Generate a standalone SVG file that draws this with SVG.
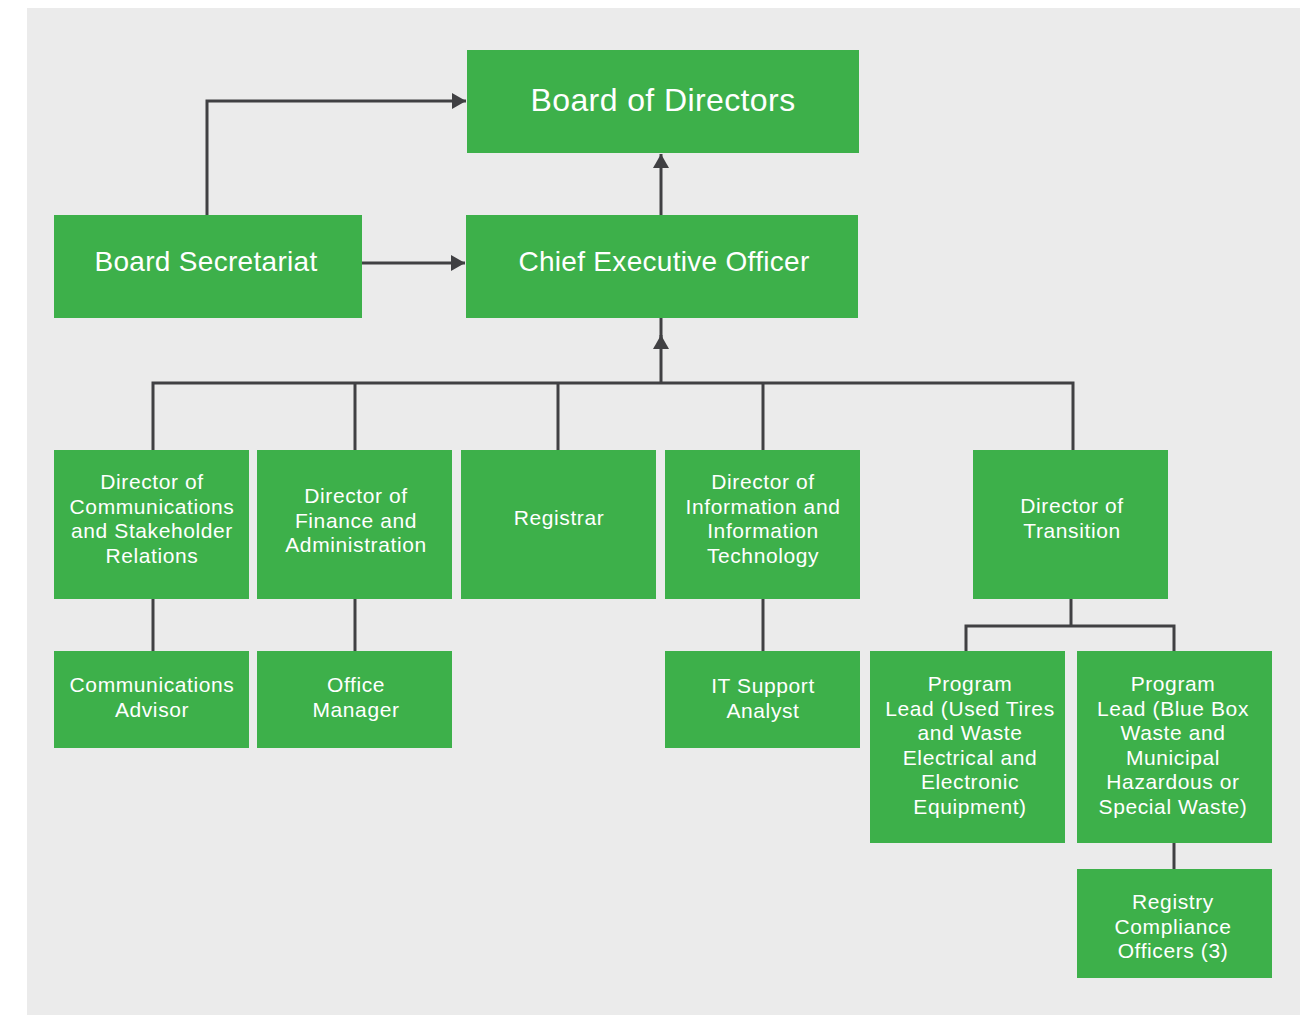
<svg xmlns="http://www.w3.org/2000/svg" width="1307" height="1015" viewBox="0 0 1307 1015">
<defs>
<style>
.bg{fill:#ebebeb}
.n{fill:#3db04a}
.c{stroke:#404043;stroke-width:3;fill:none}
.t{fill:#ffffff;font-family:"Liberation Sans",Arial,sans-serif;text-anchor:middle}
.s{font-size:21px;letter-spacing:0.6px}
.m{font-size:28px;letter-spacing:0.3px}
.l{font-size:32px;letter-spacing:0.4px}
</style>
<marker id="ah" viewBox="0 0 14 16" refX="14" refY="8" markerWidth="14" markerHeight="16" markerUnits="userSpaceOnUse" orient="auto">
<path d="M0,0 L14,8 L0,16 Z" fill="#404043"/>
</marker>
</defs>
<rect class="bg" x="27" y="8" width="1273" height="1007"/>
<g id="connectors">
<path class="c" d="M207,215 V101 H466" marker-end="url(#ah)"/>
<path class="c" d="M362,263 H465" marker-end="url(#ah)"/>
<path class="c" d="M661,215 V154" marker-end="url(#ah)"/>
<path class="c" d="M661,383 V335" marker-end="url(#ah)"/>
<path class="c" d="M661,340 V318"/>
<path class="c" d="M153,450 V383 H1073 V450"/>
<path class="c" d="M355,383 V450"/>
<path class="c" d="M558,383 V450"/>
<path class="c" d="M763,383 V450"/>
<path class="c" d="M153,599 V651"/>
<path class="c" d="M355,599 V651"/>
<path class="c" d="M763,599 V651"/>
<path class="c" d="M1071,599 V626"/>
<path class="c" d="M966,651 V626 H1174 V651"/>
<path class="c" d="M1174,843 V869"/>
</g>
<g id="board">
<rect class="n" x="467" y="50" width="392" height="103"/>
<text class="t l" x="663" y="111">Board of Directors</text>
</g>
<g id="secretariat">
<rect class="n" x="54" y="215" width="308" height="103"/>
<text class="t m" x="206" y="271">Board Secretariat</text>
</g>
<g id="ceo">
<rect class="n" x="466" y="215" width="392" height="103"/>
<text class="t m" x="664" y="271">Chief Executive Officer</text>
</g>
<g id="dir-comm">
<rect class="n" x="54" y="450" width="195" height="149"/>
<text class="t s" x="152" y="489">Director of</text>
<text class="t s" x="152" y="513.5">Communications</text>
<text class="t s" x="152" y="538">and Stakeholder</text>
<text class="t s" x="152" y="562.5">Relations</text>
</g>
<g id="dir-finance">
<rect class="n" x="257" y="450" width="195" height="149"/>
<text class="t s" x="356" y="503">Director of</text>
<text class="t s" x="356" y="527.5">Finance and</text>
<text class="t s" x="356" y="552">Administration</text>
</g>
<g id="registrar">
<rect class="n" x="461" y="450" width="195" height="149"/>
<text class="t s" x="559" y="525">Registrar</text>
</g>
<g id="dir-it">
<rect class="n" x="665" y="450" width="195" height="149"/>
<text class="t s" x="763" y="489">Director of</text>
<text class="t s" x="763" y="513.5">Information and</text>
<text class="t s" x="763" y="538">Information</text>
<text class="t s" x="763" y="562.5">Technology</text>
</g>
<g id="dir-transition">
<rect class="n" x="973" y="450" width="195" height="149"/>
<text class="t s" x="1072" y="513">Director of</text>
<text class="t s" x="1072" y="537.5">Transition</text>
</g>
<g id="comm-advisor">
<rect class="n" x="54" y="651" width="195" height="97"/>
<text class="t s" x="152" y="692">Communications</text>
<text class="t s" x="152" y="717">Advisor</text>
</g>
<g id="office-manager">
<rect class="n" x="257" y="651" width="195" height="97"/>
<text class="t s" x="356" y="692">Office</text>
<text class="t s" x="356" y="717">Manager</text>
</g>
<g id="it-support">
<rect class="n" x="665" y="651" width="195" height="97"/>
<text class="t s" x="763" y="693">IT Support</text>
<text class="t s" x="763" y="718">Analyst</text>
</g>
<g id="program-lead-tires">
<rect class="n" x="870" y="651" width="195" height="192"/>
<text class="t s" x="970" y="691">Program</text>
<text class="t s" x="970" y="715.5">Lead (Used Tires</text>
<text class="t s" x="970" y="740">and Waste</text>
<text class="t s" x="970" y="764.5">Electrical and</text>
<text class="t s" x="970" y="789">Electronic</text>
<text class="t s" x="970" y="813.5">Equipment)</text>
</g>
<g id="program-lead-bluebox">
<rect class="n" x="1077" y="651" width="195" height="192"/>
<text class="t s" x="1173" y="691">Program</text>
<text class="t s" x="1173" y="715.5">Lead (Blue Box</text>
<text class="t s" x="1173" y="740">Waste and</text>
<text class="t s" x="1173" y="764.5">Municipal</text>
<text class="t s" x="1173" y="789">Hazardous or</text>
<text class="t s" x="1173" y="813.5">Special Waste)</text>
</g>
<g id="registry-officers">
<rect class="n" x="1077" y="869" width="195" height="109"/>
<text class="t s" x="1173" y="909">Registry</text>
<text class="t s" x="1173" y="933.5">Compliance</text>
<text class="t s" x="1173" y="958">Officers (3)</text>
</g>
</svg>
